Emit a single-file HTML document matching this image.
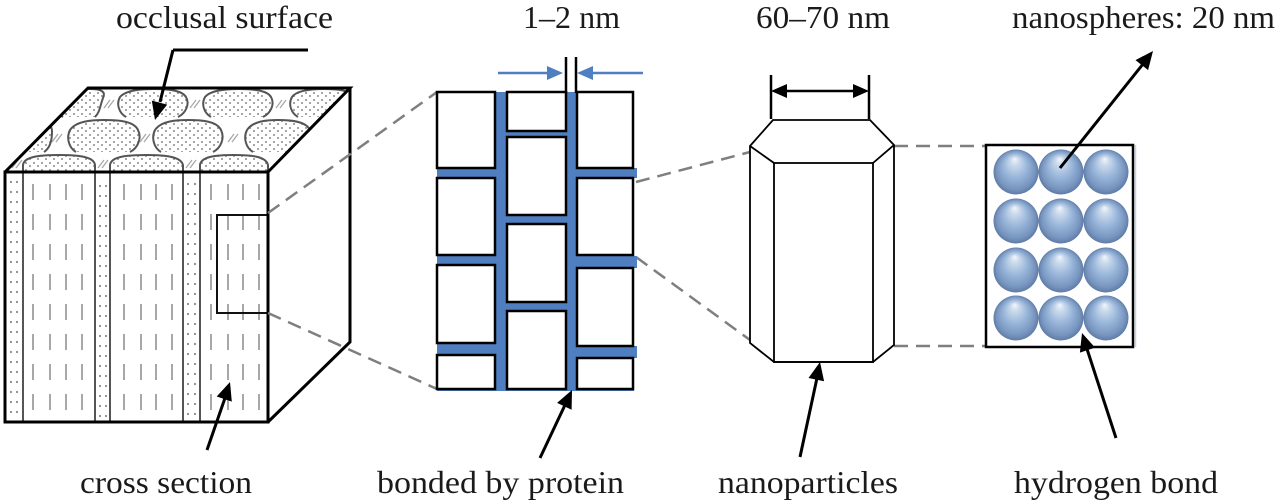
<!DOCTYPE html>
<html>
<head>
<meta charset="utf-8">
<style>
html,body{margin:0;padding:0;background:#fff;}
svg{display:block;}
text{font-family:"Liberation Serif","Times New Roman",serif;fill:#1a1a1a;font-size:32px;}
</style>
</head>
<body>
<svg width="1280" height="501" viewBox="0 0 1280 501" xmlns="http://www.w3.org/2000/svg">
<defs>
  <pattern id="stip" width="8" height="7" patternUnits="userSpaceOnUse">
    <circle cx="2" cy="2" r="1" fill="#8a8a8a"/>
    <circle cx="6" cy="5" r="1" fill="#8a8a8a"/>
  </pattern>
  <radialGradient id="sph" cx="0.5" cy="0.5" r="0.5" fx="0.47" fy="0.2">
    <stop offset="0" stop-color="#f2f6fb"/>
    <stop offset="0.2" stop-color="#c9d9ec"/>
    <stop offset="0.55" stop-color="#96b3d8"/>
    <stop offset="0.85" stop-color="#7895bf"/>
    <stop offset="1" stop-color="#5f7ca6"/>
  </radialGradient>
  <clipPath id="topclip">
    <polygon points="5,172 88,88 350,88 268,172"/>
  </clipPath>
</defs>

<!-- ===== CUBE ===== -->
<polygon points="5,172 88,88 350,88 268,172" fill="#fff"/>
<polygon points="268,172 350,88 350,342 268,422" fill="#fff"/>
<rect x="5" y="172" width="263" height="250" fill="#fff"/>

<!-- top face pattern -->
<g clip-path="url(#topclip)" stroke="#555" stroke-width="2" fill="url(#stip)">
  <path d="M63,117 C56,113 53,104 57,97 C63,90 78,89 90,89 C102,89 106,92 103,98 C100,106 100,112 95,117"/>
  <path d="M126,117 C119,113 116,104 120,97 C126,90 141,89 154,89 C167,89 182,90 186,97 C190,104 186,113 178,117"/>
  <path d="M211,117 C204,113 201,104 205,97 C211,90 226,89 239,89 C252,89 267,90 271,97 C275,104 271,113 263,117"/>
  <path d="M298,117 C291,113 288,104 292,97 C297,90 312,89 324,89 C337,89 350,90 354,97 C358,104 354,113 346,117"/>
  <path d="M10,152 C3,148 0,138 4,130 C10,121 25,120 37,120 C47,120 52,124 52,132 C52,140 50,148 44,152"/>
  <path d="M76,152 C69,148 66,138 70,130 C76,121 92,120 104,120 C118,120 134,121 138,130 C142,138 138,148 130,152"/>
  <path d="M161,152 C154,148 151,138 155,130 C161,121 176,120 188,120 C201,120 217,121 221,130 C225,138 221,148 213,152"/>
  <path d="M253,152 C246,148 243,138 247,130 C253,121 267,120 278,120 C290,120 306,121 310,130 C314,138 310,148 302,152"/>
  <path d="M23,172 L23,165 C24,157 38,155 59,155 C80,155 94,157 95,165 L95,172 Z"/>
  <path d="M110,172 L110,165 C111,157 125,155 146,155 C167,155 181,157 183,165 L183,172 Z"/>
  <path d="M200,172 L200,165 C201,157 214,155 234,155 C254,155 266,157 268,165 L268,172 Z"/>
</g>
<g stroke="#a8a8a8" stroke-width="1.3" fill="none" clip-path="url(#topclip)">
  <path d="M104,108 L110,100 M108,108 L114,100"/>
  <path d="M190,108 L196,100 M194,108 L200,100"/>
  <path d="M276,108 L282,100 M280,108 L286,100"/>
  <path d="M52,142 L58,134 M56,142 L62,134"/>
  <path d="M140,142 L146,134 M144,142 L150,134"/>
  <path d="M228,142 L234,134 M232,142 L238,134"/>
  <path d="M12,168 L18,160 M16,168 L22,160"/>
  <path d="M98,168 L104,160 M102,168 L108,160"/>
  <path d="M186,168 L192,160 M190,168 L196,160"/>
</g>

<!-- front face stipple bands -->
<g stroke="#8a8a8a" stroke-width="2.2" stroke-linecap="round" stroke-dasharray="0 10">
  <line x1="11" y1="182" x2="11" y2="418"/>
  <line x1="17" y1="182" x2="17" y2="418"/>
  <line x1="100" y1="186" x2="100" y2="418"/>
  <line x1="106" y1="186" x2="106" y2="418"/>
  <line x1="188" y1="184" x2="188" y2="418"/>
  <line x1="195" y1="184" x2="195" y2="418"/>
</g>
<!-- rod dashes -->
<g stroke="#999" stroke-width="1.7" stroke-dasharray="16 14">
  <line x1="33" y1="184" x2="33" y2="420"/>
  <line x1="50" y1="184" x2="50" y2="420"/>
  <line x1="66" y1="184" x2="66" y2="420"/>
  <line x1="82" y1="184" x2="82" y2="420"/>
  <line x1="124" y1="184" x2="124" y2="420"/>
  <line x1="141" y1="184" x2="141" y2="420"/>
  <line x1="156" y1="184" x2="156" y2="420"/>
  <line x1="172" y1="184" x2="172" y2="420"/>
  <line x1="211" y1="184" x2="211" y2="420"/>
  <line x1="228" y1="184" x2="228" y2="420"/>
  <line x1="243" y1="184" x2="243" y2="420"/>
  <line x1="259" y1="184" x2="259" y2="420"/>
</g>
<!-- column divider lines -->
<g stroke="#555" stroke-width="2">
  <line x1="23" y1="172" x2="23" y2="422"/>
  <line x1="95" y1="172" x2="95" y2="422"/>
  <line x1="110" y1="172" x2="110" y2="422"/>
  <line x1="183" y1="172" x2="183" y2="422"/>
  <line x1="200" y1="172" x2="200" y2="422"/>
</g>
<rect x="217" y="215" width="51" height="98" fill="none" stroke="#111" stroke-width="2"/>

<!-- cube outlines -->
<g fill="none" stroke="#000" stroke-width="3" stroke-linejoin="miter">
  <polyline points="5,172 88,88 350,88 268,172"/>
  <polyline points="350,88 350,342 268,422"/>
  <rect x="5" y="172" width="263" height="250"/>
</g>

<!-- dashed connectors -->
<g stroke="#7f7f7f" stroke-width="2.5" stroke-dasharray="14 8" fill="none">
  <line x1="268" y1="213" x2="437" y2="92"/>
  <line x1="268" y1="313" x2="437" y2="389"/>
  <line x1="636" y1="182" x2="750" y2="152"/>
  <line x1="636" y1="257" x2="750" y2="340"/>
  <line x1="894" y1="146" x2="985" y2="146"/>
  <line x1="894" y1="346" x2="985" y2="346"/>
</g>

<!-- ===== BRICKS ===== -->
<rect x="437" y="92" width="197" height="299" fill="#4f7fc0"/>
<rect x="620" y="168" width="17" height="10" fill="#4f7fc0"/>
<rect x="620" y="256" width="17" height="12" fill="#4f7fc0"/>
<rect x="620" y="346" width="17" height="12" fill="#4f7fc0"/>
<g fill="#fff" stroke="#000" stroke-width="2.5">
  <rect x="437" y="92" width="58" height="76"/>
  <rect x="437" y="178" width="58" height="77"/>
  <rect x="437" y="265" width="58" height="78"/>
  <rect x="437" y="355" width="58" height="34"/>
  <rect x="507" y="92" width="59" height="39"/>
  <rect x="507" y="137" width="59" height="78"/>
  <rect x="507" y="224" width="59" height="78"/>
  <rect x="507" y="311" width="59" height="78"/>
  <rect x="577" y="92" width="56" height="76"/>
  <rect x="577" y="178" width="56" height="77"/>
  <rect x="577" y="268" width="56" height="78"/>
  <rect x="577" y="358" width="56" height="31"/>
</g>
<g stroke="#000" stroke-width="2.5">
  <line x1="566" y1="57" x2="566" y2="93"/>
  <line x1="576" y1="57" x2="576" y2="93"/>
</g>
<g stroke="#4f7fc0" stroke-width="2.5" fill="#4f7fc0">
  <line x1="498" y1="73" x2="550" y2="73"/>
  <polygon points="563,73 547,66 547,80" stroke="none"/>
  <line x1="643" y1="73" x2="590" y2="73"/>
  <polygon points="577,73 593,66 593,80" stroke="none"/>
</g>

<!-- ===== PRISM ===== -->
<g fill="none" stroke="#000" stroke-width="1.8" stroke-linejoin="miter">
  <polygon points="750,146 773,120 870,120 894,145 894,345 873,362 774,362 750,343" fill="#fff"/>
  <rect x="774" y="163" width="99" height="199"/>
  <line x1="750" y1="146" x2="774" y2="163"/>
  <line x1="894" y1="145" x2="873" y2="163"/>
</g>
<g stroke="#000" stroke-width="2.5" fill="#000">
  <line x1="771" y1="75" x2="771" y2="119"/>
  <line x1="869" y1="75" x2="869" y2="119"/>
  <line x1="785" y1="91" x2="855" y2="91"/>
  <polygon points="771,91 787,84 787,98" stroke="none"/>
  <polygon points="869,91 853,84 853,98" stroke="none"/>
</g>

<!-- ===== SPHERES ===== -->
<rect x="986" y="145" width="147" height="202" fill="#fff" stroke="#000" stroke-width="2.5"/>
<line x1="1135.5" y1="145" x2="1135.5" y2="347" stroke="#c5d3e8" stroke-width="1.5"/>
<g fill="url(#sph)">
  <circle cx="1016" cy="172" r="22.5"/><circle cx="1061" cy="172" r="22.5"/><circle cx="1106" cy="172" r="22.5"/>
  <circle cx="1016" cy="221" r="22.5"/><circle cx="1061" cy="221" r="22.5"/><circle cx="1106" cy="221" r="22.5"/>
  <circle cx="1016" cy="270" r="22.5"/><circle cx="1061" cy="270" r="22.5"/><circle cx="1106" cy="270" r="22.5"/>
  <circle cx="1016" cy="318" r="22.5"/><circle cx="1061" cy="318" r="22.5"/><circle cx="1106" cy="318" r="22.5"/>
</g>

<!-- ===== LABEL ARROWS ===== -->
<g stroke="#000" stroke-width="3" fill="#000">
  <line x1="173" y1="50" x2="308" y2="50"/>
  <line x1="173" y1="50" x2="160" y2="102"/>
  <polygon points="155,120 151.8,100.6 167.2,104.6" stroke="none"/>
  <line x1="207" y1="450" x2="225" y2="398"/>
  <polygon points="230,382 231.8,401.6 216.7,396.5" stroke="none"/>
  <line x1="540" y1="458" x2="565" y2="405"/>
  <polygon points="572,390 571.6,409.7 557.1,402.9" stroke="none"/>
  <line x1="800" y1="457" x2="817" y2="378"/>
  <polygon points="820,362 824.1,381.3 808.5,378" stroke="none"/>
  <line x1="1116" y1="438" x2="1087" y2="349"/>
  <polygon points="1082,333 1095.1,347.6 1079.9,352.6" stroke="none"/>
  <line x1="1060" y1="168" x2="1143" y2="64"/>
  <polygon points="1153,51 1148.1,70.1 1135.5,60.1" stroke="none"/>
</g>

<!-- ===== TEXT ===== -->
<text x="116" y="28" textLength="217" lengthAdjust="spacingAndGlyphs">occlusal surface</text>
<text x="523" y="28" textLength="97" lengthAdjust="spacingAndGlyphs">1–2 nm</text>
<text x="756" y="28" textLength="134" lengthAdjust="spacingAndGlyphs">60–70 nm</text>
<text x="1012" y="28" textLength="263" lengthAdjust="spacingAndGlyphs">nanospheres: 20 nm</text>
<text x="80" y="493" textLength="172" lengthAdjust="spacingAndGlyphs">cross section</text>
<text x="377" y="493" textLength="247" lengthAdjust="spacingAndGlyphs">bonded by protein</text>
<text x="718" y="493" textLength="180" lengthAdjust="spacingAndGlyphs">nanoparticles</text>
<text x="1014" y="493" textLength="204" lengthAdjust="spacingAndGlyphs">hydrogen bond</text>
</svg>
</body>
</html>
